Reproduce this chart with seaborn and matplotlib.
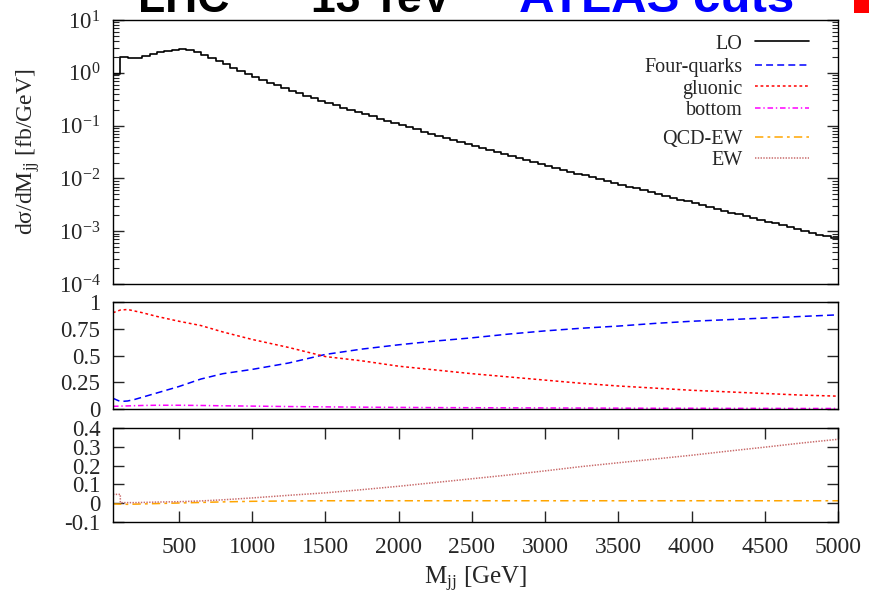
import numpy as np
import pandas as pd
import matplotlib
matplotlib.use("Agg")
import matplotlib.pyplot as plt
import seaborn as sns
from matplotlib.lines import Line2D
from matplotlib.patches import Rectangle
from matplotlib.ticker import LogLocator, NullFormatter

# ---------------- data ----------------
bin_width = 50.0
mjj_start = 50.0
# LO dsigma/dMjj [fb/GeV], 50 GeV bins from 50 to 5000 GeV
lo_xsec = [
    0.95, 1.95, 1.91, 1.91, 2.04, 2.29, 2.51, 2.63, 2.75, 2.82,
    2.69, 2.45, 2.19, 1.91, 1.66, 1.45, 1.26, 1.10, 0.955, 0.84,
    0.74, 0.653, 0.575, 0.513, 0.457, 0.407, 0.363, 0.327, 0.295, 0.266,
    0.2415, 0.219, 0.199, 0.181, 0.164, 0.149, 0.135, 0.1227, 0.1114, 0.1016,
    0.0927, 0.0845, 0.0771, 0.0703, 0.0641, 0.0585, 0.0533, 0.0486, 0.0444, 0.0407,
    0.0374, 0.0344, 0.0316, 0.0290, 0.0266, 0.0244, 0.0224, 0.0206, 0.0189, 0.0174,
    0.0160, 0.01466, 0.01346, 0.01236, 0.01135, 0.01047, 0.00966, 0.00891, 0.00822, 0.00759,
    0.00700, 0.00646, 0.00596, 0.00550, 0.00507, 0.00468, 0.00432, 0.00398, 0.00367, 0.00339,
    0.00313, 0.00288, 0.00266, 0.00245, 0.00226, 0.00209, 0.00193, 0.00178, 0.00164, 0.00151,
    0.00140, 0.00129, 0.00119, 0.00110, 0.00101, 0.000933, 0.000861, 0.000794, 0.000733,
]

ratio_mjj = [50, 100, 150, 200, 250, 350, 500, 650, 800, 1000, 1250, 1500, 1750,
             2000, 2250, 2500, 2750, 3000, 3250, 3500, 3750, 4000, 4250, 4500, 4750, 5000]
four_quarks = [0.10, 0.07, 0.075, 0.09, 0.11, 0.15, 0.21, 0.28, 0.33, 0.37, 0.43, 0.51, 0.56,
               0.60, 0.635, 0.665, 0.70, 0.73, 0.755, 0.775, 0.80, 0.82, 0.835, 0.85, 0.865, 0.88]
gluonic = [0.90, 0.925, 0.93, 0.915, 0.90, 0.865, 0.82, 0.78, 0.72, 0.65, 0.575, 0.49, 0.45,
           0.40, 0.365, 0.33, 0.30, 0.27, 0.24, 0.215, 0.195, 0.175, 0.16, 0.145, 0.13, 0.12]
bottom = [0.025, 0.027, 0.029, 0.031, 0.033, 0.035, 0.035, 0.033, 0.030, 0.027, 0.023, 0.020, 0.017,
          0.015, 0.013, 0.012, 0.011, 0.010, 0.009, 0.008, 0.007, 0.007, 0.006, 0.006, 0.005, 0.005]
qcd_ew = [-0.004, -0.005, -0.006, -0.005, -0.004, -0.002, 0.001, 0.004, 0.007, 0.010, 0.012, 0.013, 0.013,
          0.013, 0.013, 0.013, 0.013, 0.013, 0.013, 0.013, 0.013, 0.013, 0.013, 0.013, 0.013, 0.013]
ew_mjj = [50, 100, 100, 150, 200, 250, 350, 500, 650, 800, 1000, 1250, 1500, 1750,
          2000, 2250, 2500, 2750, 3000, 3250, 3500, 3750, 4000, 4250, 4500, 4750, 5000]
ew = [0.047, 0.047, 0.003, 0.003, 0.003, 0.004, 0.006, 0.008, 0.012, 0.018, 0.028, 0.042, 0.055, 0.072,
      0.090, 0.110, 0.130, 0.150, 0.172, 0.195, 0.215, 0.235, 0.255, 0.277, 0.298, 0.320, 0.340]

x_ticks = [500, 1000, 1500, 2000, 2500, 3000, 3500, 4000, 4500, 5000]
mid_ticks = [0, 0.25, 0.5, 0.75, 1]
mid_labels = ["0", "0.25", "0.5", "0.75", "1"]
low_ticks = [-0.1, 0, 0.1, 0.2, 0.3, 0.4]
low_labels = ["-0.1", "0", "0.1", "0.2", "0.3", "0.4"]

# ---------------- style ----------------
sns.set_theme(style="ticks")
plt.rcParams.update({
    "font.family": ["Liberation Serif", "DejaVu Serif"],
    "mathtext.fontset": "custom",
    "mathtext.rm": "Liberation Serif",
    "mathtext.it": "Liberation Serif:italic",
    "mathtext.bf": "Liberation Serif:bold",
    "axes.unicode_minus": False,
    "axes.linewidth": 1.0,
    "axes.edgecolor": "black",
    "lines.scale_dashes": False,
})

W, H = 870, 599
fig = plt.figure(figsize=(W / 100, H / 100), dpi=100)
L, R = 113, 838
ax1 = fig.add_axes([L / W, 1 - 284 / H, (R - L) / W, (284 - 20) / H])
ax2 = fig.add_axes([L / W, 1 - 409 / H, (R - L) / W, (409 - 302) / H])
ax3 = fig.add_axes([L / W, 1 - 522 / H, (R - L) / W, (522 - 428) / H])

styles = {
    "LO": dict(color="black", lw=1.2, dashes=None),
    "Four-quarks": dict(color="#0000ff", lw=1.1, dashes=(5, 3)),
    "gluonic": dict(color="#ff0000", lw=1.1, dashes=(2, 2)),
    "bottom": dict(color="#ff00ff", lw=1.1, dashes=(4, 2, 1, 2)),
    "QCD-EW": dict(color="#ffa500", lw=1.1, dashes=(6, 3, 2, 3)),
    "EW": dict(color="#c86a6a", lw=1.1, dashes=(1, 1)),
}

# ---- top panel: LO histogram
edges = mjj_start + bin_width * np.arange(len(lo_xsec) + 1)
lo_df = pd.DataFrame({"mjj": edges, "xsec": list(lo_xsec) + [lo_xsec[-1]]})
sns.lineplot(data=lo_df, x="mjj", y="xsec", ax=ax1, color="black", lw=1.2,
             drawstyle="steps-post", estimator=None, sort=False)
ax1.set_yscale("log")
ax1.set_ylim(1e-4, 10)


def draw(ax, x, y, name):
    st = styles[name]
    sns.lineplot(x=x, y=y, ax=ax, color=st["color"], lw=st["lw"], estimator=None, sort=False)
    if st["dashes"] is not None:
        ax.lines[-1].set_dashes(st["dashes"])


draw(ax2, ratio_mjj, four_quarks, "Four-quarks")
draw(ax2, ratio_mjj, gluonic, "gluonic")
draw(ax2, ratio_mjj, bottom, "bottom")
draw(ax3, ratio_mjj, qcd_ew, "QCD-EW")
draw(ax3, ew_mjj, ew, "EW")

for ax in (ax1, ax2, ax3):
    ax.set_xlim(50, 5000)
    ax.set_xlabel("")
    ax.set_ylabel("")
    for s in ax.spines.values():
        s.set_visible(True)
        s.set_linewidth(1.0)
        s.set_color("black")

ax2.set_ylim(0, 1)
ax3.set_ylim(-0.1, 0.4)

TS = 16.5
# ticks
ax1.yaxis.set_major_locator(LogLocator(base=10, numticks=10))
ax1.yaxis.set_minor_locator(LogLocator(base=10, subs=np.arange(2, 10), numticks=20))
ax1.yaxis.set_minor_formatter(NullFormatter())
ax1.tick_params(axis="y", which="major", direction="in", length=8, width=1, left=True, right=True,
                labelsize=TS, pad=9)
ax1.tick_params(axis="y", which="minor", direction="in", length=4, width=0.8, left=True, right=True)
ax1.tick_params(axis="x", which="both", bottom=False, top=False, labelbottom=False)

ax2.set_yticks(mid_ticks, mid_labels)
ax2.tick_params(axis="y", direction="in", length=8, width=1, left=True, right=True, labelsize=TS, pad=9)
ax2.tick_params(axis="x", which="both", bottom=False, top=False, labelbottom=False)

ax3.set_yticks(low_ticks, low_labels)
ax3.tick_params(axis="y", direction="in", length=8, width=1, left=True, right=True, labelsize=TS, pad=9)
ax3.set_xticks(x_ticks, [str(v) for v in x_ticks])
ax3.tick_params(axis="x", direction="in", length=8, width=1, bottom=True, top=True, labelsize=TS + 0.5, pad=11)

# axis labels
ax1.set_ylabel("dσ/dM$_{\\mathrm{jj}}$ [fb/GeV]", fontsize=17)
ax1.yaxis.set_label_coords(-0.098, 0.5)
ax3.set_xlabel("M$_{\\mathrm{jj}}$ [GeV]", fontsize=18)
ax3.xaxis.set_label_coords(0.5, -0.46)

# legends (right-aligned text, sample to the right)
def mk(name):
    st = styles[name]
    h = Line2D([], [], color=st["color"], lw=st["lw"])
    if st["dashes"] is not None:
        h.set_dashes(st["dashes"])
    return h

leg_kw = dict(loc="center right", markerfirst=False, frameon=False, fontsize=14.5,
              handlelength=2.7, handletextpad=0.6, labelspacing=0.12, borderaxespad=0,
              borderpad=0)
xr = (809 - L) / (R - L)
leg1 = ax1.legend([mk("LO")], ["LO"], bbox_to_anchor=(xr, (284 - 44) / 264), **leg_kw)
ax1.add_artist(leg1)
leg2 = ax1.legend([mk(n) for n in ["Four-quarks", "gluonic", "bottom"]],
                  ["Four-quarks", "gluonic", "bottom"],
                  bbox_to_anchor=(xr, (284 - 89) / 264), **leg_kw)
ax1.add_artist(leg2)
leg3 = ax1.legend([mk(n) for n in ["QCD-EW", "EW"]], ["QCD-EW", "EW"],
                  bbox_to_anchor=(xr, (284 - 150) / 264), **leg_kw)

# clipped title at the very top
ty = 1 - 12 / H
tkw = dict(fontweight="bold", family=["Liberation Sans", "DejaVu Sans"], va="baseline")
fig.text(184 / W, ty, "LHC", color="black", ha="center", fontsize=32, **tkw)
fig.text(311 / W, ty, "13 TeV", color="black", ha="left", fontsize=32, **tkw)
fig.text(519 / W, ty, "ATLAS cuts", color="#0000ff", ha="left", fontsize=35.5, **tkw)
fig.patches.append(Rectangle((854 / W, 1 - 13 / H), 16 / W, 13 / H, transform=fig.transFigure,
                             facecolor="#ff0000", edgecolor="none"))

fig.savefig("out.png", dpi=100)
